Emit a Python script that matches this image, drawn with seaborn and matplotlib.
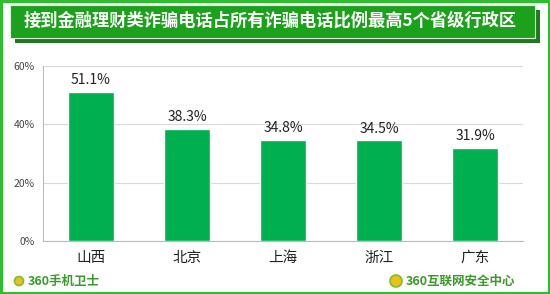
import matplotlib
matplotlib.use("Agg")
import matplotlib.pyplot as plt
from matplotlib.patches import Rectangle, Ellipse
import seaborn as sns
import pandas as pd

categories = ["山西", "北京", "上海", "浙江", "广东"]
values = [51.1, 38.3, 34.8, 34.5, 31.9]
yticks = [0, 20, 40, 60]
title = "接到金融理财类诈骗电话占所有诈骗电话比例最高5个省级行政区"

sns.set_theme(style="white")
plt.rcParams['font.family'] = ['Noto Sans CJK SC', 'DejaVu Sans']

df = pd.DataFrame({"省份": categories, "比例": values})

fig = plt.figure(figsize=(5.5, 2.94), dpi=100)
W, H = 550, 294

def fx(x): return x / W
def fy(y): return 1 - y / H

# outer border
fig.patches.append(Rectangle((0.002, 0.003), 0.996, 0.994, transform=fig.transFigure,
                             fill=False, edgecolor="#2DBE2D", linewidth=2.2))
# title box shadow and box
fig.patches.append(Rectangle((fx(15), fy(43)), fx(525), 33 / H, transform=fig.transFigure,
                             facecolor="#1F7A1F", edgecolor="none"))
fig.patches.append(Rectangle((fx(10), fy(38)), fx(525), 33 / H, transform=fig.transFigure,
                             facecolor="#1BA11B", edgecolor="#DDEEDD", linewidth=0.8))
fig.text(fx(270), fy(21), title, color="white", fontsize=12.4, fontweight="bold",
         ha="center", va="center")

ax = fig.add_axes([fx(43), fy(241), 480 / W, 175 / H])
sns.barplot(data=df, x="省份", y="比例", color="#00B050", width=0.48, ax=ax,
            saturation=1)
ax.set_ylim(0, 60)
ax.set_yticks(yticks)
ax.set_yticklabels([f"{t}%" for t in yticks], fontsize=7.5, color="#444444")
ax.tick_params(axis="x", labelsize=10.5, colors="#222222", length=0, pad=7)
ax.tick_params(axis="y", length=3, color="#BBBBBB", width=0.8, pad=3)
ax.set_xlabel("")
ax.set_ylabel("")
ax.grid(axis="y", color="#D9D9D9", linewidth=0.8)
ax.set_axisbelow(True)
for s in ["top", "right"]:
    ax.spines[s].set_visible(False)
ax.spines["left"].set_color("#BBBBBB")
ax.spines["bottom"].set_color("#BBBBBB")
ax.spines["left"].set_linewidth(0.8)
ax.spines["bottom"].set_linewidth(0.8)

for i, v in enumerate(values):
    ax.annotate(f"{v}%", (i, v), xytext=(0, 3.5), textcoords="offset points",
                ha="center", va="bottom", fontsize=10, color="#222222")

# footer logos
def logo(x, y, r):
    fig.patches.append(Ellipse((fx(x), fy(y)), 2 * r / W, 2 * r / H, transform=fig.transFigure,
                               facecolor="#E8C21A", edgecolor="#7DBF2A", linewidth=1.2))
logo(19, 281, 4.5)
fig.text(fx(28), fy(281), "360手机卫士", color="#3A9A2A", fontsize=9, fontweight="bold",
         ha="left", va="center")
logo(396, 281, 6)
fig.text(fx(406), fy(281), "360互联网安全中心", color="#3A9A2A", fontsize=9, fontweight="bold",
         ha="left", va="center")

fig.savefig("out.png", dpi=100)
